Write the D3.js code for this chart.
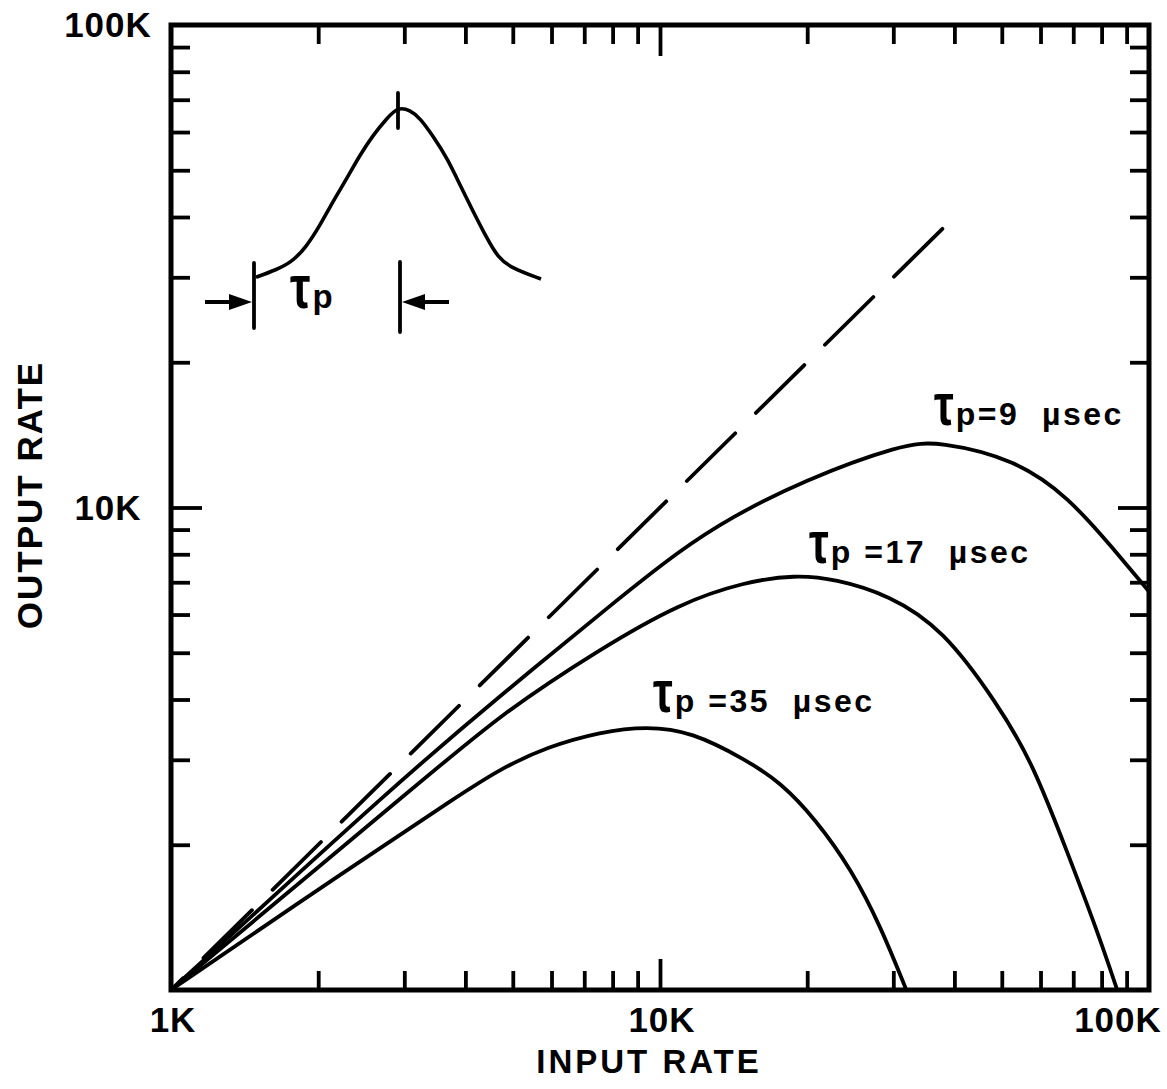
<!DOCTYPE html>
<html>
<head>
<meta charset="utf-8">
<script src="https://cdn.jsdelivr.net/npm/d3@7"></script>
<style>
  body { margin: 0; background: #fff; }
  svg { display: block; background: #fff; }
  text { font-family: "Liberation Sans", Arial, sans-serif; font-weight: bold; fill: #000; }
</style>
</head>
<body>
<svg id="chart" width="1167" height="1089"></svg>
<script>
// tick values (both axes are log, 1K .. 100K)
const minorTicks = [2e3, 3e3, 4e3, 5e3, 6e3, 7e3, 8e3, 9e3, 2e4, 3e4, 4e4, 5e4, 6e4, 7e4, 8e4, 9e4];
const decadeTicks = [1e4];
const xTickLabels = [[1e3, "1K"], [1e4, "10K"], [1e5, "100K"]];
const yTickLabels = [[1e4, "10K"], [1e5, "100K"]];

// ideal response (output = input), dashed
const idealInput = [37800, 1000];
const idealOutput = [37800, 1000];

// tau_p = 9 usec
const in9 = [1000, 2940, 4600, 8160, 11000, 13900, 19500, 31400, 37200, 53200, 68500, 84300, 100000];
const out9 = [1000, 2720, 3990, 6430, 8160, 9510, 11350, 13550, 13700, 12600, 10500, 8240, 6700];

// tau_p = 17 usec
const in17 = [1000, 3270, 4710, 7530, 11000, 14900, 18900, 22800, 29400, 37900, 48900, 57700, 68200, 78300, 86100];
const out17 = [1000, 2720, 3720, 5090, 6340, 7010, 7250, 7110, 6590, 5600, 3930, 2970, 1920, 1330, 1000];

// tau_p = 35 usec
const in35 = [1000, 2320, 3900, 4710, 5870, 7570, 9400, 11600, 14900, 17600, 20800, 24700, 28300, 31900];
const out35 = [1000, 1790, 2540, 2870, 3190, 3430, 3520, 3430, 3010, 2700, 2260, 1770, 1350, 1000];

// inset pulse shape (time in units of tau_p, relative amplitude)
const pulseT = [0, 0.142, 0.255, 0.355, 0.447, 0.539, 0.638, 0.730, 0.823, 0.922, 1.0, 1.085, 1.156, 1.248, 1.348, 1.44, 1.532, 1.631, 1.702, 1.794, 2.007];
const pulseA = [0.01, 0.053, 0.1, 0.188, 0.306, 0.447, 0.582, 0.718, 0.835, 0.935, 1.0, 0.982, 0.935, 0.829, 0.7, 0.541, 0.388, 0.229, 0.129, 0.065, 0.0];

const svg = d3.select("#chart");
const plotL = 171, plotR = 1149, plotT = 25, plotB = 990;

const x = d3.scaleLog().domain([1e3, 1e5]).range([plotL, plotR]);
const y = d3.scaleLog().domain([1e3, 1e5]).range([plotB, plotT]);

// inward ticks on all four sides
function ticks(axisFn, values, size, transform) {
    svg.append("g")
        .attr("transform", transform)
        .call(axisFn.tickValues(values).tickSize(size).tickFormat(""))
        .call(g => g.select(".domain").remove())
        .call(g => g.selectAll("text").remove())
        .selectAll("line")
        .attr("stroke", "#000")
        .attr("stroke-width", 3.8);
}
ticks(d3.axisBottom(x), minorTicks, -19, `translate(0,${plotB})`);
ticks(d3.axisBottom(x), decadeTicks, -31, `translate(0,${plotB})`);
ticks(d3.axisTop(x), minorTicks, -19, `translate(0,${plotT})`);
ticks(d3.axisTop(x), decadeTicks, -31, `translate(0,${plotT})`);
ticks(d3.axisLeft(y), minorTicks, -19, `translate(${plotL},0)`);
ticks(d3.axisLeft(y), decadeTicks, -31, `translate(${plotL},0)`);
ticks(d3.axisRight(y), minorTicks, -19, `translate(${plotR},0)`);
ticks(d3.axisRight(y), decadeTicks, -31, `translate(${plotR},0)`);

svg.append("rect")
    .attr("x", plotL).attr("y", plotT)
    .attr("width", plotR - plotL).attr("height", plotB - plotT)
    .attr("fill", "none")
    .attr("stroke", "#000")
    .attr("stroke-width", 5);

// tick labels
svg.selectAll(".xlab")
    .data(xTickLabels)
    .enter().append("text")
    .attr("class", "xlab")
    .attr("x", d => Math.min(x(d[0]) + 2, 1118))
    .attr("y", 1032)
    .attr("text-anchor", "middle")
    .style("font-size", "35px")
    .style("letter-spacing", "1px")
    .text(d => d[1]);

svg.selectAll(".ylab")
    .data(yTickLabels)
    .enter().append("text")
    .attr("class", "ylab")
    .attr("x", 108)
    .attr("y", d => Math.max(y(d[0]), 20) + 12)
    .attr("text-anchor", "middle")
    .style("font-size", "35px")
    .style("letter-spacing", "1px")
    .text(d => d[1]);

// axis titles
svg.append("text")
    .attr("x", 649).attr("y", 1073)
    .attr("text-anchor", "middle")
    .style("font-size", "33px")
    .style("letter-spacing", "3px")
    .text("INPUT RATE");

svg.append("text")
    .attr("transform", "translate(42,495) rotate(-90)")
    .attr("text-anchor", "middle")
    .style("font-size", "35px")
    .style("letter-spacing", "2px")
    .text("OUTPUT RATE");

// curves
const line = d3.line()
    .x(d => x(d[0]))
    .y(d => y(d[1]))
    .curve(d3.curveBasis);

const curves = [d3.zip(in9, out9), d3.zip(in17, out17), d3.zip(in35, out35)];
svg.selectAll(".curve")
    .data(curves)
    .enter().append("path")
    .attr("class", "curve")
    .attr("d", line)
    .attr("fill", "none")
    .attr("stroke", "#000")
    .attr("stroke-width", 3.8)
    .attr("stroke-linejoin", "round");

svg.append("path")
    .attr("d", d3.line().x(d => x(d[0])).y(d => y(d[1]))(d3.zip(idealInput, idealOutput)))
    .attr("fill", "none")
    .attr("stroke", "#000")
    .attr("stroke-width", 3.8)
    .attr("stroke-linecap", "round")
    .attr("stroke-dasharray", "68,29");

// tall script tau followed by "p" and the rest of the label
function tauText(lx, ly, rest, size) {
    svg.append("text")
        .attr("transform", `translate(${lx},${ly}) scale(0.75,1)`)
        .style("font-size", `${size * 1.85}px`)
        .text("τ");
    svg.append("text")
        .attr("x", lx + size * 0.68).attr("y", ly)
        .style("font-size", `${size}px`)
        .style("letter-spacing", "2.5px")
        .text("p" + rest);
}
tauText(934, 425, "=9\u00a0\u00a0µsec", 32);
tauText(809, 563, "\u00a0=17\u00a0\u00a0µsec", 32);
tauText(653, 712, "\u00a0=35\u00a0\u00a0µsec", 32);

// inset pulse sketch
const px = d3.scaleLinear().domain([0, 1]).range([256, 398]);
const py = d3.scaleLinear().domain([0, 1]).range([279, 107]);

svg.append("path")
    .attr("d", d3.line().x(d => px(d[0])).y(d => py(d[1])).curve(d3.curveBasis)(d3.zip(pulseT, pulseA)))
    .attr("fill", "none")
    .attr("stroke", "#000")
    .attr("stroke-width", 3.6);

const bar = (bx, y1, y2) => svg.append("line")
    .attr("x1", bx).attr("x2", bx).attr("y1", y1).attr("y2", y2)
    .attr("stroke", "#000").attr("stroke-width", 3.8).attr("stroke-linecap", "round");
bar(px(0) - 2, py(0) - 16, py(0) + 49);
bar(px(1) + 2, py(0) - 17, py(0) + 53);
bar(px(1), py(1) - 14, py(1) + 21);

const ay = py(0) + 23;
function arrow(tipX, dir) {
    svg.append("line")
        .attr("x1", tipX - dir * 47).attr("x2", tipX - dir * 18)
        .attr("y1", ay).attr("y2", ay)
        .attr("stroke", "#000").attr("stroke-width", 4);
    svg.append("path")
        .attr("d", `M${tipX},${ay} L${tipX - dir * 23},${ay - 8} L${tipX - dir * 23},${ay + 8} Z`)
        .attr("fill", "#000");
}
arrow(px(0) - 4, 1);
arrow(px(1) + 4, -1);

tauText(290, 308, "", 33);
</script>
</body>
</html>
